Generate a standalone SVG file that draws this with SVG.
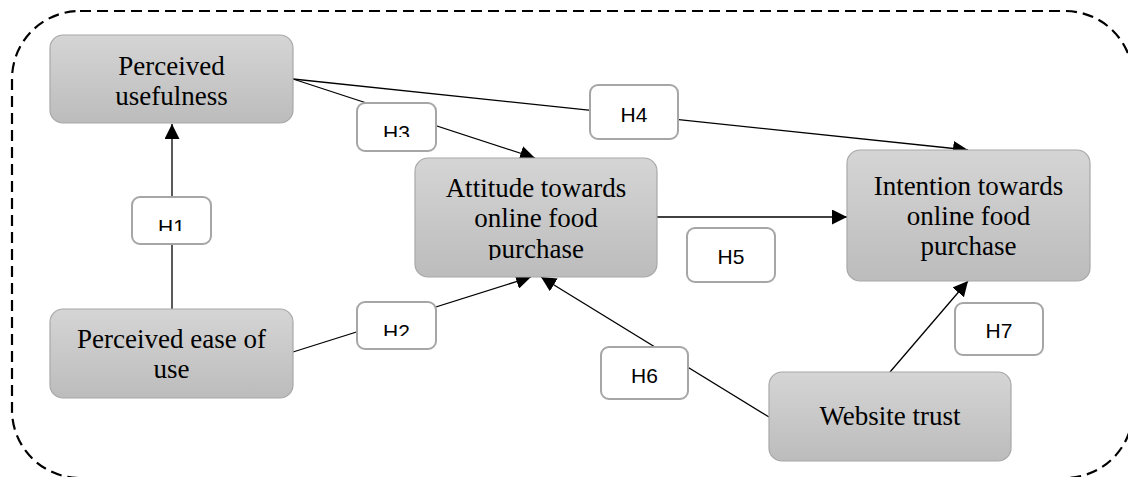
<svg xmlns="http://www.w3.org/2000/svg" width="1128" height="477" viewBox="0 0 1128 477">
<style>
.node{fill:url(#ng);stroke:#a8a8a8;stroke-width:1.2}
.nt{font-family:"Liberation Serif","Times New Roman",serif;font-size:27px;fill:#000;text-anchor:middle}
.lb{fill:#fff;stroke:#a6a6a6;stroke-width:2}
.lt{font-family:"Liberation Sans",Arial,sans-serif;font-size:21px;fill:#000;text-anchor:middle}
.cn{stroke:#000;stroke-width:1.3;fill:none}
.frame{fill:none;stroke:#000;stroke-width:2.2;stroke-dasharray:11 6}
</style>
<defs>
<linearGradient id="ng" x1="0" y1="0" x2="0" y2="1">
<stop offset="0" stop-color="#d5d5d5"/>
<stop offset="1" stop-color="#bcbcbc"/>
</linearGradient>
<marker id="ah" markerUnits="userSpaceOnUse" markerWidth="15" markerHeight="15" refX="15" refY="7.5" orient="auto">
<path d="M0,0 L15,7.5 L0,15 z" fill="#000"/>
</marker>
<clipPath id="cH1"><rect x="132" y="197" width="79" height="34"/></clipPath>
<clipPath id="cH2"><rect x="357" y="302" width="79" height="34"/></clipPath>
<clipPath id="cH3"><rect x="357" y="103" width="79" height="34"/></clipPath>
<clipPath id="cAt"><rect x="415" y="158" width="242" height="102"/></clipPath>
</defs>
<rect class="frame" x="12" y="11" width="1121" height="467" rx="68" ry="68"/>
<g id="connectors">
<line class="cn" x1="172" y1="309" x2="172" y2="124" marker-end="url(#ah)"/>
<line class="cn" x1="293" y1="352" x2="531" y2="277" marker-end="url(#ah)"/>
<line class="cn" x1="293" y1="79" x2="535" y2="158" marker-end="url(#ah)"/>
<line class="cn" x1="293" y1="79" x2="968" y2="150" marker-end="url(#ah)"/>
<line class="cn" x1="657" y1="217" x2="847" y2="217" marker-end="url(#ah)"/>
<line class="cn" x1="769" y1="417" x2="541" y2="277" marker-end="url(#ah)"/>
<line class="cn" x1="890" y1="372" x2="968" y2="281" marker-end="url(#ah)"/>
</g>
<g id="labels">
<g id="lH1"><rect class="lb" x="132" y="197" width="79" height="47" rx="8"/><text class="lt" x="171.5" y="234" clip-path="url(#cH1)">H1</text></g>
<g id="lH2"><rect class="lb" x="357" y="302" width="79" height="47" rx="8"/><text class="lt" x="396.5" y="339" clip-path="url(#cH2)">H2</text></g>
<g id="lH3"><rect class="lb" x="357" y="103" width="79" height="48" rx="8"/><text class="lt" x="396.5" y="140" clip-path="url(#cH3)">H3</text></g>
<g id="lH4"><rect class="lb" x="590" y="85" width="88" height="54" rx="8"/><text class="lt" x="634" y="122">H4</text></g>
<g id="lH5"><rect class="lb" x="687" y="228" width="88" height="54" rx="8"/><text class="lt" x="731" y="264">H5</text></g>
<g id="lH6"><rect class="lb" x="601" y="347" width="87" height="52" rx="8"/><text class="lt" x="644.5" y="383">H6</text></g>
<g id="lH7"><rect class="lb" x="955" y="303" width="88" height="52" rx="8"/><text class="lt" x="999" y="338">H7</text></g>
</g>
<g id="n-pu"><rect class="node" x="50" y="35" width="243" height="88" rx="13"/><text class="nt" x="171.5" y="75">Perceived</text><text class="nt" x="171.5" y="105">usefulness</text></g>
<g id="n-pe"><rect class="node" x="50" y="309" width="243" height="89" rx="13"/><text class="nt" x="171.5" y="348">Perceived ease of</text><text class="nt" x="171.5" y="378">use</text></g>
<g id="n-at"><rect class="node" x="415" y="158" width="242" height="119" rx="13"/><g clip-path="url(#cAt)"><text class="nt" x="536" y="197">Attitude towards</text><text class="nt" x="536" y="227">online food</text><text class="nt" x="536" y="258">purchase</text></g></g>
<g id="n-in"><rect class="node" x="847" y="150" width="243" height="131" rx="13"/><text class="nt" x="968.5" y="195">Intention towards</text><text class="nt" x="968.5" y="225">online food</text><text class="nt" x="968.5" y="255">purchase</text></g>
<g id="n-wt"><rect class="node" x="769" y="372" width="242" height="89" rx="13"/><text class="nt" x="890" y="425">Website trust</text></g>
</svg>
